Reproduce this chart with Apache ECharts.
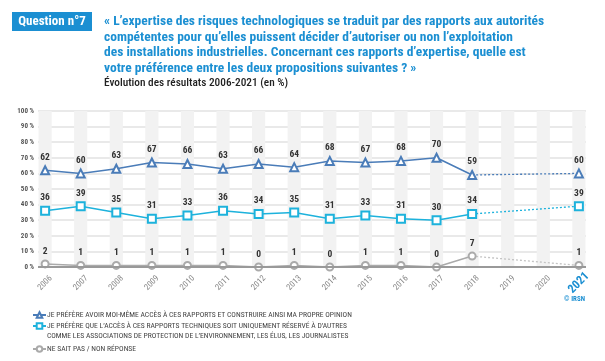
<!DOCTYPE html>
<html><head><meta charset="utf-8">
<script src="https://cdn.jsdelivr.net/npm/echarts@6/dist/echarts.min.js"></script>
<style>html,body{margin:0;padding:0;background:#fff}#c{width:605px;height:361px}</style>
</head><body><div id="c"></div>
<script>
const years = ['2006','2007','2008','2009','2010','2011','2012','2013','2014','2015','2016','2017','2018','2019','2020','2021'];
const ownAccess = [62,60,63,67,66,63,66,64,68,67,68,70,59,null,null,60];
const reservedAccess = [36,39,35,31,33,36,34,35,31,33,31,30,34,null,null,39];
const noAnswer = [2,1,1,1,1,1,0,1,0,1,1,0,7,null,null,1];
const nameA = "JE PRÉFÈRE AVOIR MOI-MÊME ACCÈS À CES RAPPORTS ET CONSTRUIRE AINSI MA PROPRE OPINION";
const nameB = "JE PRÉFÈRE QUE L’ACCÈS À CES RAPPORTS TECHNIQUES SOIT UNIQUEMENT RÉSERVÉ À D’AUTRES";
const nameB2 = "COMME LES ASSOCIATIONS DE PROTECTION DE L’ENVIRONNEMENT, LES ÉLUS, LES JOURNALISTES";
const nameC = "NE SAIT PAS / NON RÉPONSE";
const questionLines = [
  "« L’expertise des risques technologiques se traduit par des rapports aux autorités",
  "compétentes pour qu’elles puissent décider d’autoriser ou non l’exploitation",
  "des installations industrielles. Concernant ces rapports d’expertise, quelle est",
  "votre préférence entre les deux propositions suivantes ? »"
];

const NARROW = '"Roboto Condensed","Liberation Sans Narrow","DejaVu Sans Condensed","Arial Narrow",Roboto,sans-serif';
const BLUE = '#1b8fd2';
const colA = '#4a7cb8', colB = '#1db2dc', colC = '#aaaaaa';

const lastSolid = 12, lastIdx = years.length - 1;
const xy = arr => arr.map((v, i) => [i, v == null ? '-' : v]);
const dash = arr => [[lastSolid, arr[lastSolid]], [lastIdx, arr[lastIdx]]];

const chart = echarts.init(document.getElementById('c'), null, {renderer: 'canvas'});

function mainSeries(name, arr, color, symbol, size) {
  return {
    name, type: 'line', data: xy(arr), connectNulls: false,
    symbol, symbolSize: size, showAllSymbol: true,
    lineStyle: {color, width: 1.5},
    itemStyle: {color, borderColor: color, borderWidth: 1.5},
    label: {show: true, position: 'top', distance: 3, color: '#333', fontSize: 9.5, fontWeight: 'bold', fontFamily: NARROW},
    emphasis: {disabled: true}, z: 3
  };
}
function dashSeries(name, arr, color) {
  return {
    name: name + '_d', type: 'line', data: dash(arr), symbol: 'none',
    lineStyle: {color, width: 1.3, type: [2, 2]}, emphasis: {disabled: true}, z: 2, silent: true
  };
}

const legendCommon = {
  orient: 'vertical', left: 32, padding: 0, itemWidth: 13, itemHeight: 7, itemGap: 0, selectedMode: false,
  textStyle: {fontSize: 7.6, lineHeight: 10, color: '#444', fontFamily: NARROW, padding: [0, 0, 0, -4]}
};

chart.setOption({
  animation: false,
  backgroundColor: '#fff',
  grid: {left: 38, right: 19, top: 111, bottom: 94},
  xAxis: {
    type: 'value', min: -0.2, max: 15.2,
    splitLine: {show: false},
    axisLine: {show: false}, axisTick: {show: false},
    axisLabel: {
      customValues: years.map((_, i) => i), rotate: 45, margin: 16,
      align: 'center', verticalAlign: 'middle',
      color: '#888', fontSize: 8.5, fontFamily: NARROW,
      formatter: v => (v === lastIdx ? '{hl|' + years[v] + '}' : years[v]),
      rich: {hl: {color: BLUE, fontSize: 12, fontWeight: 'bold', fontFamily: NARROW}}
    }
  },
  yAxis: {
    type: 'value', min: 0, max: 100, interval: 10,
    axisLine: {show: false},
    axisTick: {show: false},
    splitLine: {lineStyle: {color: '#e2e2e2', width: 1.5}},
    axisLabel: {formatter: '{value} %', color: '#555', fontSize: 7, fontWeight: 'bold', margin: 4, fontFamily: NARROW}
  },
  legend: [
    Object.assign({}, legendCommon, {top: 310, data: [nameA]}),
    Object.assign({}, legendCommon, {top: 321, data: [nameB]}),
    Object.assign({}, legendCommon, {top: 344, data: [nameC]})
  ],
  graphic: [
    {type: 'rect', left: 12, top: 12, shape: {width: 80, height: 19}, style: {fill: BLUE}},
    {type: 'text', x: 52, y: 22, style: {text: 'Question n°7', fill: '#fff', font: 'bold 13px ' + NARROW, align: 'center', verticalAlign: 'middle'}},
    {type: 'text', left: 104, top: 14, style: {text: questionLines.join('\n'), fill: BLUE, font: 'bold 13.5px ' + NARROW, lineHeight: 15.5}},
    {type: 'text', left: 104, top: 78, style: {text: 'Évolution des résultats 2006-2021 (en %)', fill: '#222', font: '500 11.3px ' + NARROW}},
    {type: 'text', right: 20, top: 296, style: {text: '© IRSN', fill: BLUE, font: 'bold 7px ' + NARROW}},
    {type: 'text', left: 47, top: 331, style: {text: nameB2, fill: '#444', font: '7.6px ' + NARROW, lineHeight: 10}}
  ],
  series: [
    {
      name: 'bands', type: 'line', data: [], silent: true, z: -1,
      markArea: {silent: true, itemStyle: {color: '#f2f2f2'},
        data: years.map((_, i) => [{xAxis: i - 0.185, yAxis: 0}, {xAxis: i + 0.185, yAxis: 100}])}
    },
    {
      name: 'axis0', type: 'line', data: [], silent: true, z: 1,
      markLine: {silent: true, symbol: 'none', label: {show: false}, lineStyle: {color: '#999', width: 2, type: 'solid'},
        data: [{yAxis: 0}]}
    },
    mainSeries(nameA, ownAccess, colA, 'emptyTriangle', 8),
    mainSeries(nameB, reservedAccess, colB, 'emptyRect', 8),
    mainSeries(nameC, noAnswer, colC, 'emptyCircle', 7),
    dashSeries(nameA, ownAccess, colA),
    dashSeries(nameB, reservedAccess, colB),
    dashSeries(nameC, noAnswer, '#c4c4c4')
  ]
});
</script></body></html>
